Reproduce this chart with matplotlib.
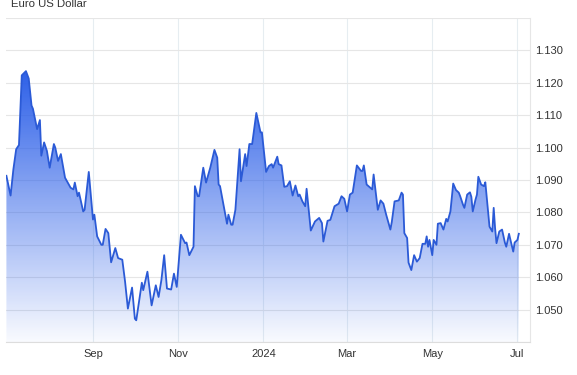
import matplotlib.pyplot as plt
import matplotlib.dates as mdates
import numpy as np
import pandas as pd
from matplotlib.colors import LinearSegmentedColormap

plt.rcParams['font.family'] = ['Liberation Sans', 'DejaVu Sans']

title = 'Euro US Dollar'

# days counted from 2023-07-01
start = '2023-07-01'
days = [0, 3, 5, 7, 9, 11, 14, 16, 18, 19, 22, 24, 25, 27, 29, 31, 34, 35, 37, 39,
        42, 46, 48, 49, 51, 52, 55, 56, 59, 62, 63, 65, 68, 69, 71, 73, 75, 78, 80, 83,
        85, 87, 90, 92, 93, 97, 98, 101, 104, 107, 109, 111, 113, 115, 118, 120, 122, 125, 128, 129,
        131, 134, 135, 137, 138, 141, 143, 146, 149, 151, 152, 153, 158, 159, 161, 162, 164, 167, 168, 171,
        172, 174, 176, 179, 182, 183, 186, 188, 190, 191, 194, 195, 197, 199, 201, 203, 205, 207, 209, 210,
        212, 214, 215, 218, 221, 224, 226, 227, 230, 232, 235, 238, 240, 242, 244, 246, 248, 251, 254, 255,
        256, 258, 262, 263, 266, 268, 270, 272, 275, 276, 278, 281, 283, 284, 285, 287, 288, 290, 292, 294,
        296, 298, 300, 301, 302, 303, 305, 306, 308, 309, 311, 313, 315, 316, 318, 320, 322, 324, 325, 327,
        328, 330, 332, 333, 334, 336, 337, 338, 340, 342, 343, 345, 346, 348, 349, 350, 351, 353, 355, 357,
        358, 360, 361, 363, 364, 366, 367]
rates = [1.0913, 1.0852, 1.0933, 1.0995, 1.1008, 1.1223, 1.1236, 1.1213, 1.1130, 1.1120,
         1.1057, 1.1085, 1.0975, 1.1016, 1.0990, 1.0938, 1.1011, 1.1000, 1.0959, 1.0980,
         1.0907, 1.0876, 1.0871, 1.0892, 1.0850, 1.0861, 1.0803, 1.0808, 1.0925, 1.0778,
         1.0793, 1.0726, 1.0700, 1.0700, 1.0749, 1.0736, 1.0646, 1.0690, 1.0659, 1.0654,
         1.0586, 1.0503, 1.0568, 1.0472, 1.0467, 1.0583, 1.0560, 1.0617, 1.0513, 1.0575,
         1.0539, 1.0591, 1.0668, 1.0565, 1.0562, 1.0611, 1.0570, 1.0731, 1.0705, 1.0707,
         1.0668, 1.0694, 1.0881, 1.0850, 1.0850, 1.0938, 1.0892, 1.0938, 1.0993, 1.0969,
         1.0886, 1.0881, 1.0765, 1.0793, 1.0762, 1.0762, 1.0808, 1.0995, 1.0896, 1.0980,
         1.0943, 1.1011, 1.1011, 1.1107, 1.1047, 1.1047, 1.0925, 1.0943, 1.0949, 1.0938,
         1.0972, 1.0949, 1.0945, 1.0879, 1.0881, 1.0896, 1.0852, 1.0883, 1.0850, 1.0855,
         1.0834, 1.0819, 1.0873, 1.0744, 1.0772, 1.0783, 1.0767, 1.0710, 1.0774, 1.0777,
         1.0819, 1.0827, 1.0850, 1.0842, 1.0803, 1.0855, 1.0861, 1.0945, 1.0928, 1.0928,
         1.0945, 1.0886, 1.0871, 1.0917, 1.0808, 1.0837, 1.0827, 1.0793, 1.0747, 1.0770,
         1.0834, 1.0837, 1.0861, 1.0855, 1.0736, 1.0721, 1.0645, 1.0622, 1.0668, 1.0648,
         1.0659, 1.0703, 1.0703, 1.0726, 1.0694, 1.0715, 1.0668, 1.0715, 1.0700, 1.0765,
         1.0767, 1.0747, 1.0780, 1.0772, 1.0803, 1.0889, 1.0869, 1.0861, 1.0850, 1.0824,
         1.0814, 1.0855, 1.0862, 1.0848, 1.0803, 1.0840, 1.0855, 1.0910, 1.0886, 1.0881,
         1.0893, 1.0803, 1.0756, 1.0741, 1.0814, 1.0751, 1.0705, 1.0741, 1.0747, 1.0707,
         1.0694, 1.0734, 1.0715, 1.0679, 1.0707, 1.0715, 1.0734]

tick_dates = ['2023-09-01', '2023-11-01', '2024-01-01', '2024-03-01', '2024-05-01', '2024-07-01']
tick_labels = ['Sep', 'Nov', '2024', 'Mar', 'May', 'Jul']
y_grid = [1.04, 1.05, 1.06, 1.07, 1.08, 1.09, 1.10, 1.11, 1.12, 1.13, 1.14]

dates = pd.Timestamp(start) + pd.to_timedelta(days, unit='D')
x = mdates.date2num(dates.to_pydatetime())
x0 = mdates.date2num(pd.Timestamp(start))
x1 = x0 + 375
ylo, yhi = 1.04, 1.14

fig = plt.figure(figsize=(5.77, 3.75), dpi=100)
ax = fig.add_axes([6.4 / 577, 1 - 342 / 375, (530 - 6.4) / 577, (342 - 18) / 375])
ax.set_axisbelow(True)

# gradient fill under the line, fading to transparent at the bottom
poly = ax.fill_between(x, rates, ylo, facecolor='none', edgecolor='none')
cmap = LinearSegmentedColormap.from_list('fade', [(0.18, 0.38, 0.91, 0.03), (0.18, 0.38, 0.91, 1.0)])
grad = np.linspace(0, 1, 256).reshape(-1, 1)
img = ax.imshow(grad, extent=[x[0], x[-1], ylo, max(rates)], aspect='auto',
                cmap=cmap, origin='lower', zorder=1, interpolation='bicubic')
img.set_clip_path(poly.get_paths()[0], transform=ax.transData)

ax.plot(x, rates, color='#2b5ad6', lw=1.3, zorder=3, solid_joinstyle='round')

ax.set_xlim(x0, x1)
ax.set_ylim(ylo, yhi)

ax.set_xticks(mdates.date2num(pd.to_datetime(tick_dates).to_pydatetime()))
ax.set_xticklabels(tick_labels)
ax.set_yticks(y_grid)
ax.set_yticklabels([f'{v:.3f}' if 1.045 < v < 1.135 else '' for v in y_grid])
ax.yaxis.tick_right()

ax.grid(axis='y', color='#e6e6e6', lw=0.8)
ax.grid(axis='x', color='#e6edf1', lw=0.8)
ax.tick_params(axis='both', length=0, labelsize=8, colors='#333333')
ax.tick_params(axis='y', pad=4)
ax.tick_params(axis='x', pad=5)

for s in ['top', 'left']:
    ax.spines[s].set_visible(False)
ax.spines['right'].set_color('#e6e6e6')
ax.spines['bottom'].set_color('#dddddd')
ax.spines['right'].set_linewidth(0.8)
ax.spines['bottom'].set_linewidth(0.8)

fig.text(11.5 / 577, 1 - 7 / 375, title, fontsize=8.2, color='#333333', va='baseline')

plt.savefig('out.png', dpi=100)
